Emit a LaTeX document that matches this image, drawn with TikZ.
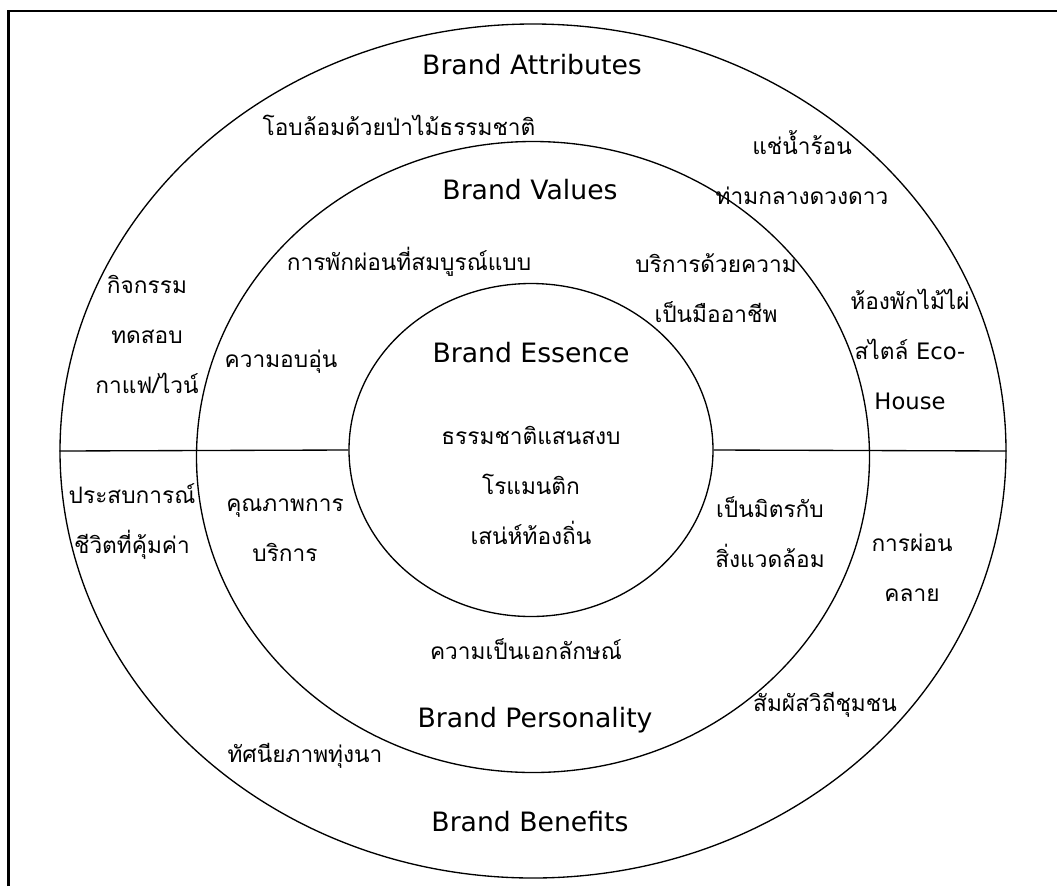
\documentclass[tikz,border=0pt]{standalone}
\usepackage{fontspec}
\setmainfont{DejaVu Sans}
\newfontfamily\thaifont[Script=Thai]{Loma}
\usepackage{tikz}
\usetikzlibrary{shapes.geometric}

\begin{document}
\begin{tikzpicture}[x=0.75pt, y=-0.75pt,
    ring/.style={draw, ellipse, line width=1pt, inner sep=0pt},
    brand/.style={font=\fontsize{20}{24}\selectfont},
    thai/.style={font=\thaifont\fontsize{17}{37.5}\selectfont, align=center}]
    \useasboundingbox (0,0) rectangle (1057,886);
    \draw[line width=1.6pt] (8.5,886) |- (1057,11);

    \node[ring, minimum width=709.5pt, minimum height=640.5pt] (outer) at (533,451) {};
    \node[ring, minimum width=504.75pt, minimum height=473.25pt] (middle) at (533,457) {};
    \node[ring, minimum width=273pt, minimum height=249.75pt] (inner) at (531,450) {};
    \draw[line width=1pt] (outer.west) -- (inner.west);
    \draw[line width=1pt] (inner.east) -- (outer.east);

    \node[brand] (attributes) at (532,65) {Brand Attributes};
    \node[brand] (values) at (530,190) {Brand Values};
    \node[brand] (essence) at (531,353) {Brand Essence};
    \node[brand] (personality) at (535,720) {Brand Personality};
    \node[brand] (benefits) at (530,822) {Brand Benefits};

    \node[thai] (forest) at (399,125) {โอบล้อมด้วยป่าไม้ธรรมชาติ};
    \node[thai] (hotspring) at (802,168) {แช่น้ำร้อน\\ท่ามกลางดวงดาว};
    \node[thai] (activity) at (147,334) {กิจกรรม\\ทดสอบ\\กาแฟ/ไวน์};
    \node[thai] (bamboo) at (910,349) {ห้องพักไม้ไผ่\\สไตล์ {\normalfont Eco-}\\{\normalfont House}};
    \node[thai] (rest) at (409,262) {การพักผ่อนที่สมบูรณ์แบบ};
    \node[thai] (service) at (716,288) {บริการด้วยความ\\เป็นมืออาชีพ};
    \node[thai] (warmth) at (281,362) {ความอบอุ่น};
    \node[thai] (core) at (531,485) {ธรรมชาติแสนสงบ\\โรแมนติก\\เสน่ห์ท้องถิ่น};
    \node[thai] (life) at (132,522) {ประสบการณ์\\ชีวิตที่คุ้มค่า};
    \node[thai] (quality) at (285,530) {คุณภาพการ\\บริการ};
    \node[thai] (eco) at (770,532) {เป็นมิตรกับ\\สิ่งแวดล้อม};
    \node[thai] (relax) at (912,568) {การผ่อน\\คลาย};
    \node[thai] (unique) at (526,649) {ความเป็นเอกลักษณ์};
    \node[thai] (community) at (825,705) {สัมผัสวิถีชุมชน};
    \node[thai] (fields) at (305,756) {ทัศนียภาพทุ่งนา};
\end{tikzpicture}
\end{document}
